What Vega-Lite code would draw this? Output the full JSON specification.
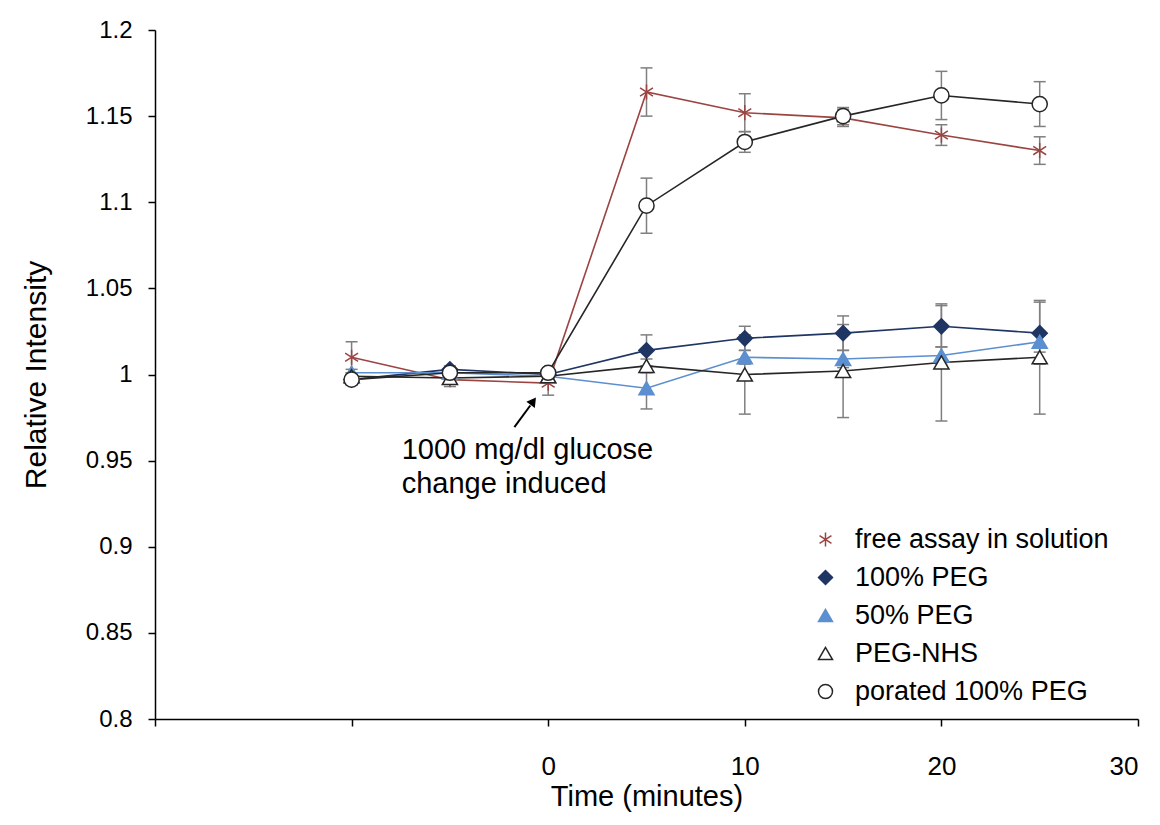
{
  "$schema": "https://vega.github.io/schema/vega-lite/v6.json",
  "width": 983,
  "height": 689,
  "autosize": "none",
  "padding": {"left": 155, "top": 30, "right": 22, "bottom": 106},
  "background": "white",
  "config": {"view": {"stroke": null}, "font": "Liberation Sans"},
  "datasets": {
    "d": [
      {"series": "free assay in solution", "t": -10, "y": 1.010, "lo": 1.001, "hi": 1.019},
      {"series": "free assay in solution", "t": -5, "y": 0.997, "lo": 0.993, "hi": 1.001},
      {"series": "free assay in solution", "t": 0, "y": 0.995, "lo": 0.988, "hi": 1.002},
      {"series": "free assay in solution", "t": 5, "y": 1.164, "lo": 1.150, "hi": 1.178},
      {"series": "free assay in solution", "t": 10, "y": 1.152, "lo": 1.141, "hi": 1.163},
      {"series": "free assay in solution", "t": 15, "y": 1.149, "lo": 1.144, "hi": 1.154},
      {"series": "free assay in solution", "t": 20, "y": 1.139, "lo": 1.133, "hi": 1.145},
      {"series": "free assay in solution", "t": 25, "y": 1.130, "lo": 1.122, "hi": 1.138},
      {"series": "100% PEG", "t": -10, "y": 0.997, "lo": 0.994, "hi": 1.000},
      {"series": "100% PEG", "t": -5, "y": 1.003, "lo": 1.001, "hi": 1.005},
      {"series": "100% PEG", "t": 0, "y": 1.000, "lo": 0.998, "hi": 1.002},
      {"series": "100% PEG", "t": 5, "y": 1.014, "lo": 1.005, "hi": 1.023},
      {"series": "100% PEG", "t": 10, "y": 1.021, "lo": 1.014, "hi": 1.028},
      {"series": "100% PEG", "t": 15, "y": 1.024, "lo": 1.014, "hi": 1.034},
      {"series": "100% PEG", "t": 20, "y": 1.028, "lo": 1.016, "hi": 1.040},
      {"series": "100% PEG", "t": 25, "y": 1.024, "lo": 1.006, "hi": 1.042},
      {"series": "50% PEG", "t": -10, "y": 1.001, "lo": 0.999, "hi": 1.003},
      {"series": "50% PEG", "t": -5, "y": 1.001, "lo": 0.999, "hi": 1.003},
      {"series": "50% PEG", "t": 0, "y": 0.999, "lo": 0.997, "hi": 1.001},
      {"series": "50% PEG", "t": 5, "y": 0.992, "lo": 0.980, "hi": 1.004},
      {"series": "50% PEG", "t": 10, "y": 1.010, "lo": 1.006, "hi": 1.014},
      {"series": "50% PEG", "t": 15, "y": 1.009, "lo": 1.004, "hi": 1.014},
      {"series": "50% PEG", "t": 20, "y": 1.011, "lo": 1.006, "hi": 1.016},
      {"series": "50% PEG", "t": 25, "y": 1.019, "lo": 1.013, "hi": 1.025},
      {"series": "PEG-NHS", "t": -10, "y": 0.999, "lo": 0.997, "hi": 1.001},
      {"series": "PEG-NHS", "t": -5, "y": 0.998, "lo": 0.996, "hi": 1.000},
      {"series": "PEG-NHS", "t": 0, "y": 0.999, "lo": 0.997, "hi": 1.001},
      {"series": "PEG-NHS", "t": 5, "y": 1.005, "lo": 1.001, "hi": 1.009},
      {"series": "PEG-NHS", "t": 10, "y": 1.000, "lo": 0.977, "hi": 1.023},
      {"series": "PEG-NHS", "t": 15, "y": 1.002, "lo": 0.975, "hi": 1.029},
      {"series": "PEG-NHS", "t": 20, "y": 1.007, "lo": 0.973, "hi": 1.041},
      {"series": "PEG-NHS", "t": 25, "y": 1.010, "lo": 0.977, "hi": 1.043},
      {"series": "porated 100% PEG", "t": -10, "y": 0.997, "lo": 0.995, "hi": 0.999},
      {"series": "porated 100% PEG", "t": -5, "y": 1.001, "lo": 0.999, "hi": 1.003},
      {"series": "porated 100% PEG", "t": 0, "y": 1.001, "lo": 0.999, "hi": 1.003},
      {"series": "porated 100% PEG", "t": 5, "y": 1.098, "lo": 1.082, "hi": 1.114},
      {"series": "porated 100% PEG", "t": 10, "y": 1.135, "lo": 1.129, "hi": 1.141},
      {"series": "porated 100% PEG", "t": 15, "y": 1.150, "lo": 1.145, "hi": 1.155},
      {"series": "porated 100% PEG", "t": 20, "y": 1.162, "lo": 1.148, "hi": 1.176},
      {"series": "porated 100% PEG", "t": 25, "y": 1.157, "lo": 1.144, "hi": 1.170}
    ],
    "notes": [
      {"t": -7.45, "y": 0.956, "label": "1000 mg/dl glucose"},
      {"t": -7.45, "y": 0.9365, "label": "change induced"}
    ],
    "arrow": [
      {"t": -1.72, "y": 0.9695, "t2": -0.91, "y2": 0.982, "ht": -0.76, "hy": 0.9845}
    ]
  },
  "layer": [
    {
      "data": {"name": "d"},
      "mark": {"type": "rule", "color": "#7f7f7f", "strokeWidth": 1.5},
      "encoding": {
        "x": {
          "field": "t", "type": "quantitative",
          "scale": {"domain": [-20, 30], "nice": false, "zero": false},
          "axis": {
            "title": "Time (minutes)",
            "values": [-20, -10, 0, 10, 20, 30],
            "labelExpr": "datum.value < 0 ? '' : datum.label",
            "grid": false,
            "domainColor": "black", "domainWidth": 1.5,
            "tickColor": "black", "tickWidth": 1.5, "tickSize": 7,
            "labelFont": "Liberation Sans", "labelFontSize": 26, "labelColor": "black", "labelPadding": 27,
            "titleFont": "Liberation Sans", "titleFontSize": 29, "titleFontWeight": "normal", "titleColor": "black", "titlePadding": 3
          }
        },
        "y": {
          "field": "lo", "type": "quantitative",
          "scale": {"domain": [0.8, 1.2], "nice": false, "zero": false},
          "axis": {
            "title": "Relative Intensity",
            "values": [0.8, 0.85, 0.9, 0.95, 1, 1.05, 1.1, 1.15, 1.2],
            "format": "~g",
            "grid": false,
            "domainColor": "black", "domainWidth": 1.5,
            "tickColor": "black", "tickWidth": 1.5, "tickSize": 7,
            "labelFont": "Liberation Sans", "labelFontSize": 24, "labelColor": "black", "labelPadding": 16,
            "titleFont": "Liberation Sans", "titleFontSize": 30, "titleFontWeight": "normal", "titleColor": "black", "titlePadding": 34
          }
        },
        "y2": {"field": "hi"}
      }
    },
    {
      "data": {"name": "d"},
      "mark": {"type": "tick", "orient": "horizontal", "color": "#7f7f7f", "size": 12, "thickness": 1.5, "opacity": 1},
      "encoding": {
        "x": {"field": "t", "type": "quantitative"},
        "y": {"field": "lo", "type": "quantitative"}
      }
    },
    {
      "data": {"name": "d"},
      "mark": {"type": "tick", "orient": "horizontal", "color": "#7f7f7f", "size": 12, "thickness": 1.5, "opacity": 1},
      "encoding": {
        "x": {"field": "t", "type": "quantitative"},
        "y": {"field": "hi", "type": "quantitative"}
      }
    },
    {
      "data": {"name": "d"},
      "mark": {"type": "line", "strokeWidth": 1.6},
      "encoding": {
        "x": {"field": "t", "type": "quantitative"},
        "y": {"field": "y", "type": "quantitative"},
        "stroke": {
          "field": "series", "type": "nominal",
          "scale": {
            "domain": ["free assay in solution", "100% PEG", "50% PEG", "PEG-NHS", "porated 100% PEG"],
            "range": ["#9b4543", "#1f3563", "#5b8fd0", "#262626", "#262626"]
          },
          "legend": {
            "title": null, "orient": "none", "legendX": 657, "legendY": 496, "padding": 0,
            "symbolSize": 196, "symbolStrokeWidth": 1.5, "labelLimit": 0,
            "labelFont": "Liberation Sans", "labelFontSize": 27, "labelColor": "black", "labelOffset": 16, "rowPadding": 10
          }
        }
      }
    },
    {
      "data": {"name": "d"},
      "mark": {"type": "point", "size": 230, "strokeWidth": 1.5, "opacity": 1},
      "encoding": {
        "x": {"field": "t", "type": "quantitative"},
        "y": {"field": "y", "type": "quantitative"},
        "stroke": {
          "field": "series", "type": "nominal",
          "scale": {
            "domain": ["free assay in solution", "100% PEG", "50% PEG", "PEG-NHS", "porated 100% PEG"],
            "range": ["#9b4543", "#1f3563", "#5b8fd0", "#262626", "#262626"]
          },
          "legend": {
            "title": null, "orient": "none", "legendX": 657, "legendY": 496, "padding": 0,
            "symbolSize": 196, "symbolStrokeWidth": 1.5, "labelLimit": 0,
            "labelFont": "Liberation Sans", "labelFontSize": 27, "labelColor": "black", "labelOffset": 16, "rowPadding": 10
          }
        },
        "fill": {
          "field": "series", "type": "nominal",
          "scale": {
            "domain": ["free assay in solution", "100% PEG", "50% PEG", "PEG-NHS", "porated 100% PEG"],
            "range": ["#9b4543", "#1f3563", "#5b8fd0", "#ffffff", "#ffffff"]
          },
          "legend": {
            "title": null, "orient": "none", "legendX": 657, "legendY": 496, "padding": 0,
            "symbolSize": 196, "symbolStrokeWidth": 1.5, "labelLimit": 0,
            "labelFont": "Liberation Sans", "labelFontSize": 27, "labelColor": "black", "labelOffset": 16, "rowPadding": 10
          }
        },
        "shape": {
          "field": "series", "type": "nominal",
          "scale": {
            "domain": ["free assay in solution", "100% PEG", "50% PEG", "PEG-NHS", "porated 100% PEG"],
            "range": ["M0,-1V1M-0.85,-0.55L0.85,0.55M-0.85,0.55L0.85,-0.55", "diamond", "triangle-up", "triangle-up", "circle"]
          },
          "legend": {
            "title": null, "orient": "none", "legendX": 657, "legendY": 496, "padding": 0,
            "symbolSize": 196, "symbolStrokeWidth": 1.5, "labelLimit": 0,
            "labelFont": "Liberation Sans", "labelFontSize": 27, "labelColor": "black", "labelOffset": 16, "rowPadding": 10
          }
        }
      }
    },
    {
      "data": {"name": "notes"},
      "mark": {"type": "text", "align": "left", "baseline": "middle", "font": "Liberation Sans", "fontSize": 29, "color": "black"},
      "encoding": {
        "x": {"field": "t", "type": "quantitative"},
        "y": {"field": "y", "type": "quantitative"},
        "text": {"field": "label"}
      }
    },
    {
      "data": {"name": "arrow"},
      "mark": {"type": "rule", "color": "black", "strokeWidth": 2},
      "encoding": {
        "x": {"field": "t", "type": "quantitative"},
        "y": {"field": "y", "type": "quantitative"},
        "x2": {"field": "t2"},
        "y2": {"field": "y2"}
      }
    },
    {
      "data": {"name": "arrow"},
      "mark": {"type": "point", "shape": "triangle-up", "size": 110, "filled": true, "color": "black", "opacity": 1, "angle": 36},
      "encoding": {
        "x": {"field": "ht", "type": "quantitative"},
        "y": {"field": "hy", "type": "quantitative"}
      }
    }
  ]
}
